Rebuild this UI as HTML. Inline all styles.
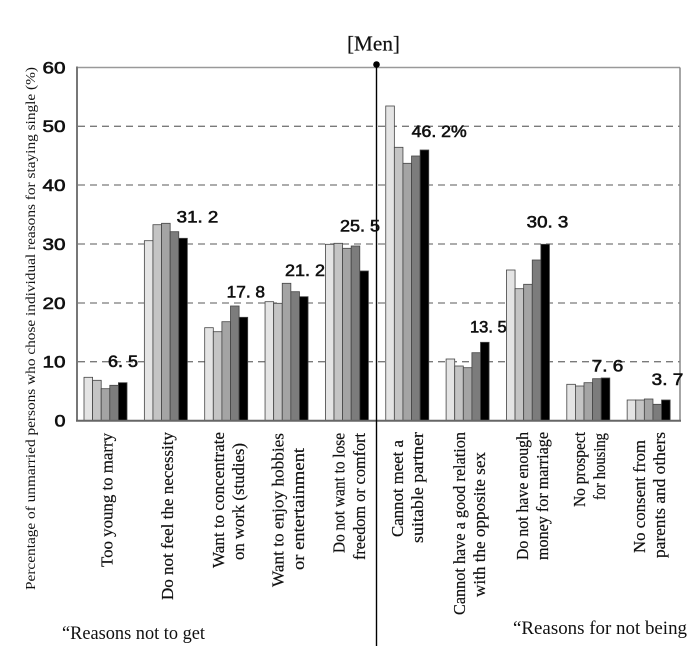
<!DOCTYPE html>
<html><head><meta charset="utf-8"><style>
html,body{margin:0;padding:0;background:#fff;}
svg{display:block;}
.v{font-family:"Liberation Sans",Arial,sans-serif;font-size:16.5px;fill:#111;stroke:#111;stroke-width:0.6;}
.c{font-family:"Liberation Serif","Times New Roman",serif;font-size:16.5px;fill:#111;stroke:#111;stroke-width:0.2;}
</style></head><body>
<svg width="687" height="646" viewBox="0 0 687 646" xmlns="http://www.w3.org/2000/svg">
<rect width="687" height="646" fill="#fff"/>
<!-- grid -->
<g stroke="#7a7a7a" stroke-width="1.3" stroke-dasharray="7,5">
<line x1="78" y1="126.3" x2="680" y2="126.3"/>
<line x1="78" y1="185" x2="680" y2="185"/>
<line x1="78" y1="244" x2="680" y2="244"/>
<line x1="78" y1="303" x2="680" y2="303"/>
<line x1="78" y1="361.7" x2="680" y2="361.7"/>
</g>
<line x1="77" y1="67.5" x2="680" y2="67.5" stroke="#999" stroke-width="1.5"/>
<line x1="680" y1="67.5" x2="680" y2="420.5" stroke="#888" stroke-width="1.5"/>
<!-- bars -->
<g stroke="#444" stroke-width="0.8">
<rect x="84" y="377.3" width="8.6" height="43.2" fill="#e4e4e4"/>
<rect x="92.6" y="380.3" width="8.6" height="40.2" fill="#c4c4c4"/>
<rect x="101.2" y="388.7" width="8.6" height="31.8" fill="#a4a4a4"/>
<rect x="109.8" y="385.3" width="8.6" height="35.2" fill="#7c7c7c"/>
<rect x="118.4" y="382.7" width="8.6" height="37.8" fill="#000"/>

<rect x="144.35" y="240.7" width="8.6" height="179.8" fill="#e4e4e4"/>
<rect x="152.95" y="224.7" width="8.6" height="195.8" fill="#c4c4c4"/>
<rect x="161.55" y="223.3" width="8.6" height="197.2" fill="#a4a4a4"/>
<rect x="170.15" y="231.7" width="8.6" height="188.8" fill="#7c7c7c"/>
<rect x="178.75" y="238.3" width="8.6" height="182.2" fill="#000"/>

<rect x="204.7" y="327.7" width="8.6" height="92.8" fill="#e4e4e4"/>
<rect x="213.3" y="331.7" width="8.6" height="88.8" fill="#c4c4c4"/>
<rect x="221.9" y="321.7" width="8.6" height="98.8" fill="#a4a4a4"/>
<rect x="230.5" y="306" width="8.6" height="114.5" fill="#7c7c7c"/>
<rect x="239.1" y="317.3" width="8.6" height="103.2" fill="#000"/>

<rect x="265.05" y="301.7" width="8.6" height="118.8" fill="#e4e4e4"/>
<rect x="273.65" y="303.3" width="8.6" height="117.2" fill="#c4c4c4"/>
<rect x="282.25" y="283.3" width="8.6" height="137.2" fill="#a4a4a4"/>
<rect x="290.85" y="291.7" width="8.6" height="128.8" fill="#7c7c7c"/>
<rect x="299.45" y="296.7" width="8.6" height="123.8" fill="#000"/>

<rect x="325.4" y="244.3" width="8.6" height="176.2" fill="#e4e4e4"/>
<rect x="334" y="243.3" width="8.6" height="177.2" fill="#c4c4c4"/>
<rect x="342.6" y="248.3" width="8.6" height="172.2" fill="#a4a4a4"/>
<rect x="351.2" y="246" width="8.6" height="174.5" fill="#7c7c7c"/>
<rect x="359.8" y="271" width="8.6" height="149.5" fill="#000"/>

<rect x="385.75" y="106" width="8.6" height="314.5" fill="#e4e4e4"/>
<rect x="394.35" y="147.3" width="8.6" height="273.2" fill="#c4c4c4"/>
<rect x="402.95" y="163.3" width="8.6" height="257.2" fill="#a4a4a4"/>
<rect x="411.55" y="156" width="8.6" height="264.5" fill="#7c7c7c"/>
<rect x="420.15" y="150" width="8.6" height="270.5" fill="#000"/>

<rect x="446.1" y="359" width="8.6" height="61.5" fill="#e4e4e4"/>
<rect x="454.7" y="366" width="8.6" height="54.5" fill="#c4c4c4"/>
<rect x="463.3" y="367.7" width="8.6" height="52.8" fill="#a4a4a4"/>
<rect x="471.9" y="352.7" width="8.6" height="67.8" fill="#7c7c7c"/>
<rect x="480.5" y="342.3" width="8.6" height="78.2" fill="#000"/>

<rect x="506.45" y="270" width="8.6" height="150.5" fill="#e4e4e4"/>
<rect x="515.05" y="288.7" width="8.6" height="131.8" fill="#c4c4c4"/>
<rect x="523.65" y="284.3" width="8.6" height="136.2" fill="#a4a4a4"/>
<rect x="532.25" y="260" width="8.6" height="160.5" fill="#7c7c7c"/>
<rect x="540.85" y="244.3" width="8.6" height="176.2" fill="#000"/>

<rect x="566.8" y="384.3" width="8.6" height="36.2" fill="#e4e4e4"/>
<rect x="575.4" y="386" width="8.6" height="34.5" fill="#c4c4c4"/>
<rect x="584" y="382.7" width="8.6" height="37.8" fill="#a4a4a4"/>
<rect x="592.6" y="378.7" width="8.6" height="41.8" fill="#7c7c7c"/>
<rect x="601.2" y="378" width="8.6" height="42.5" fill="#000"/>

<rect x="627.15" y="400" width="8.6" height="20.5" fill="#e4e4e4"/>
<rect x="635.75" y="400" width="8.6" height="20.5" fill="#c4c4c4"/>
<rect x="644.35" y="399" width="8.6" height="21.5" fill="#a4a4a4"/>
<rect x="652.95" y="404.3" width="8.6" height="16.2" fill="#7c7c7c"/>
<rect x="661.55" y="400" width="8.6" height="20.5" fill="#000"/>
</g>
<!-- axes -->
<line x1="77" y1="66.5" x2="77" y2="421.5" stroke="#777" stroke-width="2"/>
<line x1="76" y1="420.7" x2="681" y2="420.7" stroke="#666" stroke-width="2"/>
<!-- divider -->
<line x1="376.5" y1="64.5" x2="376.5" y2="646" stroke="#000" stroke-width="1.4"/>
<circle cx="376.5" cy="64.5" r="3.3" fill="#000"/>
<!-- title -->
<text x="347" y="50.7" font-family="Liberation Serif, serif" font-size="21" fill="#111" stroke="#111" stroke-width="0.2" textLength="53" lengthAdjust="spacingAndGlyphs">[Men]</text>
<!-- y tick labels -->
<g class="v" text-anchor="end">
<text x="65.5" y="73.3" textLength="23" lengthAdjust="spacingAndGlyphs">60</text>
<text x="65.5" y="132.1" textLength="23" lengthAdjust="spacingAndGlyphs">50</text>
<text x="65.5" y="190.8" textLength="23" lengthAdjust="spacingAndGlyphs">40</text>
<text x="65.5" y="249.8" textLength="23" lengthAdjust="spacingAndGlyphs">30</text>
<text x="65.5" y="308.8" textLength="23" lengthAdjust="spacingAndGlyphs">20</text>
<text x="65.5" y="367.5" textLength="23" lengthAdjust="spacingAndGlyphs">10</text>
<text x="65.5" y="426.3" textLength="11" lengthAdjust="spacingAndGlyphs">0</text>
</g>
<!-- value labels -->
<g class="v">
<text x="108" y="367" textLength="30" lengthAdjust="spacingAndGlyphs">6. 5</text>
<text x="176.7" y="222.7" textLength="41.6" lengthAdjust="spacingAndGlyphs">31. 2</text>
<text x="226.7" y="297.7" textLength="38.3" lengthAdjust="spacingAndGlyphs">17. 8</text>
<text x="285" y="276" textLength="40" lengthAdjust="spacingAndGlyphs">21. 2</text>
<text x="340" y="231.7" textLength="40" lengthAdjust="spacingAndGlyphs">25. 5</text>
<text x="411.7" y="137" textLength="55" lengthAdjust="spacingAndGlyphs">46. 2%</text>
<text x="470" y="332.7" textLength="36.7" lengthAdjust="spacingAndGlyphs">13. 5</text>
<text x="526.7" y="227.3" textLength="41.6" lengthAdjust="spacingAndGlyphs">30. 3</text>
<text x="591.7" y="371.7" textLength="31.6" lengthAdjust="spacingAndGlyphs">7. 6</text>
<text x="651.7" y="385" textLength="31.6" lengthAdjust="spacingAndGlyphs">3. 7</text>
</g>
<!-- y axis title -->
<text transform="translate(35,590) rotate(-90)" x="0" y="0" font-family="Liberation Serif, serif" font-size="14" fill="#111" textLength="523" lengthAdjust="spacingAndGlyphs">Percentage of unmarried persons who chose individual reasons for staying single (%)</text>
<!-- category labels -->
<g class="c" text-anchor="middle">
<text transform="translate(112.5,500) rotate(-90)" textLength="134" lengthAdjust="spacingAndGlyphs">Too young to marry</text>
<text transform="translate(173,516) rotate(-90)" textLength="168" lengthAdjust="spacingAndGlyphs">Do not feel the necessity</text>
<text transform="translate(224,500) rotate(-90)" textLength="136" lengthAdjust="spacingAndGlyphs">Want to concentrate</text>
<text transform="translate(244,501.5) rotate(-90)" textLength="117" lengthAdjust="spacingAndGlyphs">on work (studies)</text>
<text transform="translate(283.5,510) rotate(-90)" textLength="154" lengthAdjust="spacingAndGlyphs">Want to enjoy hobbies</text>
<text transform="translate(304,509) rotate(-90)" textLength="122" lengthAdjust="spacingAndGlyphs">or entertainment</text>
<text transform="translate(344.5,493) rotate(-90)" textLength="120" lengthAdjust="spacingAndGlyphs">Do not want to lose</text>
<text transform="translate(365,496.5) rotate(-90)" textLength="127" lengthAdjust="spacingAndGlyphs">freedom or comfort</text>
<text transform="translate(403,488.5) rotate(-90)" textLength="97" lengthAdjust="spacingAndGlyphs">Cannot meet a</text>
<text transform="translate(423,487.5) rotate(-90)" textLength="111" lengthAdjust="spacingAndGlyphs">suitable partner</text>
<text transform="translate(465,523.5) rotate(-90)" textLength="183" lengthAdjust="spacingAndGlyphs">Cannot have a good relation</text>
<text transform="translate(485,524.5) rotate(-90)" textLength="145" lengthAdjust="spacingAndGlyphs">with the opposite sex</text>
<text transform="translate(528,496) rotate(-90)" textLength="128" lengthAdjust="spacingAndGlyphs">Do not have enough</text>
<text transform="translate(548,496) rotate(-90)" textLength="128" lengthAdjust="spacingAndGlyphs">money for marriage</text>
<text transform="translate(585,469.5) rotate(-90)" textLength="75" lengthAdjust="spacingAndGlyphs">No prospect</text>
<text transform="translate(605,466.5) rotate(-90)" textLength="67" lengthAdjust="spacingAndGlyphs">for housing</text>
<text transform="translate(645,496.5) rotate(-90)" textLength="113" lengthAdjust="spacingAndGlyphs">No consent from</text>
<text transform="translate(665,495) rotate(-90)" textLength="126" lengthAdjust="spacingAndGlyphs">parents and others</text>
</g>
<!-- bottom notes -->
<text x="62" y="639" font-family="Liberation Serif, serif" font-size="19" fill="#111" textLength="143" lengthAdjust="spacingAndGlyphs">“Reasons not to get</text>
<text x="513" y="634" font-family="Liberation Serif, serif" font-size="19" fill="#111" textLength="174" lengthAdjust="spacingAndGlyphs">“Reasons for not being</text>
</svg>
</body></html>
